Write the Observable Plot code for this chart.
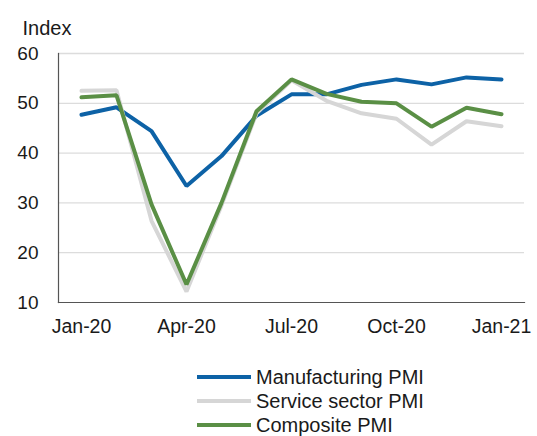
<!DOCTYPE html>
<html><head><meta charset="utf-8">
<script src="https://cdn.jsdelivr.net/npm/d3@7"></script>
<script src="https://cdn.jsdelivr.net/npm/@observablehq/plot@0.6"></script>
<style>
body{margin:0;background:#fff;font-family:"Liberation Sans",Arial,sans-serif;color:#1a1a1a;}
#legend{margin-top:15px;padding-left:197px;}
.row{display:flex;align-items:center;height:24px;font-size:20px;}
.sw{display:inline-block;width:54px;height:4px;margin-right:5px;}
</style>
</head><body>
<div id="chart"></div>
<div id="legend"></div>
<script>
const months = ["Jan-20","Feb-20","Mar-20","Apr-20","May-20","Jun-20","Jul-20","Aug-20","Sep-20","Oct-20","Nov-20","Dec-20","Jan-21"];
const xTickLabels = ["Jan-20","Apr-20","Jul-20","Oct-20","Jan-21"];
const yTicks = [10,20,30,40,50,60];
const seriesNames = ["Manufacturing PMI","Service sector PMI","Composite PMI"];
const seriesColors = ["#0d62a6","#d6d6d6","#5a8f45"];
const manufacturing = [47.7,49.2,44.4,33.4,39.4,47.5,51.8,51.8,53.7,54.8,53.8,55.2,54.8];
const services = [52.5,52.6,26.4,12.2,29.5,48.0,54.6,50.5,48.0,46.9,41.7,46.4,45.4];
const composite = [51.2,51.6,29.7,13.6,30.0,48.4,54.8,51.9,50.3,50.0,45.3,49.1,47.8];

const seriesValues = [manufacturing, services, composite];
const data = seriesNames.flatMap((s, k) => months.map((m, i) => ({series: s, month: m, value: seriesValues[k][i]})));

const chart = Plot.plot({
  width: 537,
  height: 350,
  marginLeft: 58,
  marginRight: 13,
  marginTop: 53,
  marginBottom: 48,
  style: {fontFamily: "Liberation Sans, Arial, sans-serif", fontSize: "20px", color: "#1a1a1a", background: "white"},
  x: {type: "point", domain: months, padding: 0.5},
  y: {domain: [10, 60]},
  color: {domain: seriesNames, range: seriesColors},
  marks: [
    Plot.gridY(yTicks.slice(1), {stroke: "#dcdcdc", strokeOpacity: 1, strokeWidth: 1.3}),
    Plot.axisY(yTicks, {tickSize: 0, tickPadding: 20, label: null, fontSize: 19}),
    Plot.axisX(xTickLabels, {tickSize: 0, tickPadding: 17, label: null, fontSize: 19.5}),
    Plot.frame({anchor: "left", stroke: "#555", strokeWidth: 1.2}),
    Plot.frame({anchor: "bottom", stroke: "#555", strokeWidth: 1.2}),
    Plot.line(data, {x: "month", y: "value", z: "series", stroke: "series", strokeWidth: 4, strokeLinejoin: "miter"}),
    Plot.text(["Index"], {frameAnchor: "top-left", text: d => d, textAnchor: "start", dx: -36, dy: -33, fontSize: 20, fill: "#1a1a1a"})
  ]
});
document.getElementById("chart").appendChild(chart);

const legend = document.getElementById("legend");
seriesNames.forEach((s, k) => {
  const row = document.createElement("div");
  row.className = "row";
  const sw = document.createElement("span");
  sw.className = "sw";
  sw.style.background = seriesColors[k];
  const t = document.createElement("span");
  t.textContent = s;
  row.appendChild(sw);
  row.appendChild(t);
  legend.appendChild(row);
});
</script>
</body></html>
